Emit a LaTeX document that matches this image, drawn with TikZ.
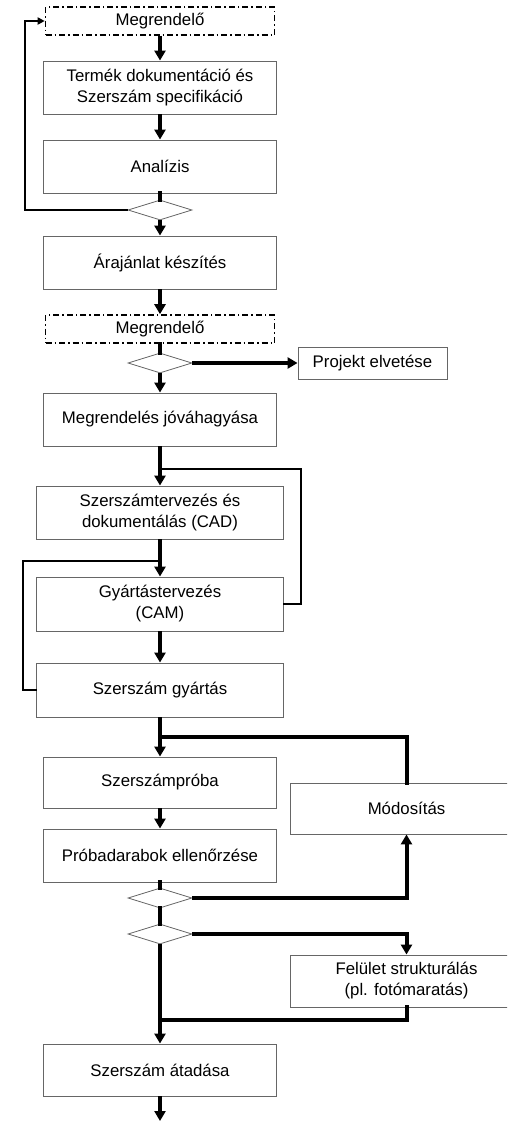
\documentclass[tikz,border=0pt]{standalone}
\usepackage{fontspec}
\setmainfont{Liberation Sans}
\usetikzlibrary{arrows.meta,shapes.geometric}
\begin{document}
\begin{tikzpicture}[x=1pt,y=-1pt,
 box/.style={draw=black!60,line width=0.9pt,fill=white,minimum width=233pt,minimum height=53pt,align=center,inner sep=2pt,font=\fontsize{16.8}{21}\selectfont},
 client/.style={box,draw=black,dash pattern=on 6pt off 3pt on 1.5pt off 3pt,line width=1.6pt,minimum width=229pt,minimum height=28pt},
 dec/.style={diamond,draw=black!60,line width=0.8pt,fill=white,minimum width=64pt,minimum height=20pt,inner sep=0pt},
 flow/.style={line width=4pt,-{Triangle[width=11pt,length=10pt]}},
 bar/.style={line width=4pt,line cap=rect},
 fb/.style={line width=2pt,line cap=rect},
 fbarrow/.style={line width=2pt,-{Triangle[width=7pt,length=7pt]}}
]
\useasboundingbox (0,0) rectangle (507,1122);
\clip (0,0) rectangle (507,1122);
\fill[white] (0,0) rectangle (507,1122);

\node[client] (m1) at (160,21) {Megrendelő};
\node[box] (termek) at (160,87.5) {Termék dokumentáció és\\Szerszám specifikáció};
\node[box] (analizis) at (160,166.5) {Analízis};
\node[dec] (d1) at (160,210) {};
\node[box] (arajanlat) at (160,262.5) {Árajánlat készítés};
\node[client] (m2) at (160,329) {Megrendelő};
\node[dec] (d2) at (160,363) {};
\node[box,minimum width=149pt,minimum height=32pt] (projekt) at (372.5,363) {Projekt elvetése};
\node[box] (megrend) at (160,419.5) {Megrendelés jóváhagyása};
\node[box,minimum width=247pt] (cad) at (160,512.5) {Szerszámtervezés és\\dokumentálás (CAD)};
\node[box,minimum width=247pt,minimum height=54pt] (cam) at (160,604) {Gyártástervezés\\(CAM)};
\node[box,minimum width=247pt,minimum height=54pt] (gyartas) at (160,690) {Szerszám gyártás};
\node[box,minimum height=51pt] (proba) at (160,782.5) {Szerszámpróba};
\node[box] (pdarab) at (160,855.5) {Próbadarabok ellenőrzése};
\node[box,minimum width=232pt,minimum height=51pt] (modos) at (406.5,808.5) {Módosítás};
\node[dec] (d3) at (160,898) {};
\node[dec] (d4) at (160,934) {};
\node[box,minimum width=232pt,minimum height=52pt] (felulet) at (406.5,981) {Felület strukturálás\\(pl. fotómaratás)};
\node[box,minimum height=52pt] (atadas) at (160,1070) {Szerszám átadása};

\coordinate (end) at (160,1121);
\coordinate (j1) at (160,469);
\coordinate (r1) at (301,469);
\coordinate (j2) at (160,561);
\coordinate (l2) at (23,561);
\coordinate (j3) at (160,737);
\coordinate (j4) at (160,1020);

\draw[flow] (m1) -- (termek);
\draw[flow] (termek) -- (analizis);
\draw[bar] (analizis) -- (d1);
\draw[fbarrow] (d1.west) -| ([xshift=-20pt]m1.west) -- (m1.west);
\draw[flow] (d1) -- (arajanlat);
\draw[flow] (arajanlat) -- (m2);
\draw[bar] (m2) -- (d2);
\draw[flow] (d2) -- (projekt);
\draw[flow] (d2) -- (megrend);
\draw[flow] (megrend) -- (cad);
\draw[fb] (cam.east) -| (r1) -- (j1);
\draw[flow] (cad) -- (cam);
\draw[fb] (gyartas.west) -| (l2) -- (j2);
\draw[flow] (cam) -- (gyartas);
\draw[flow] (gyartas) -- (proba);
\draw[bar] (modos.north) |- (j3);
\draw[flow] (proba) -- (pdarab);
\draw[bar] (pdarab) -- (d3);
\draw[flow] (d3.east) -| (modos.south);
\draw[bar] (d3) -- (d4);
\draw[flow] (d4.east) -| (felulet.north);
\draw[bar] (felulet.south) |- (j4);
\draw[flow] (d4) -- (atadas);
\draw[flow] (atadas) -- (end);
\end{tikzpicture}
\end{document}
